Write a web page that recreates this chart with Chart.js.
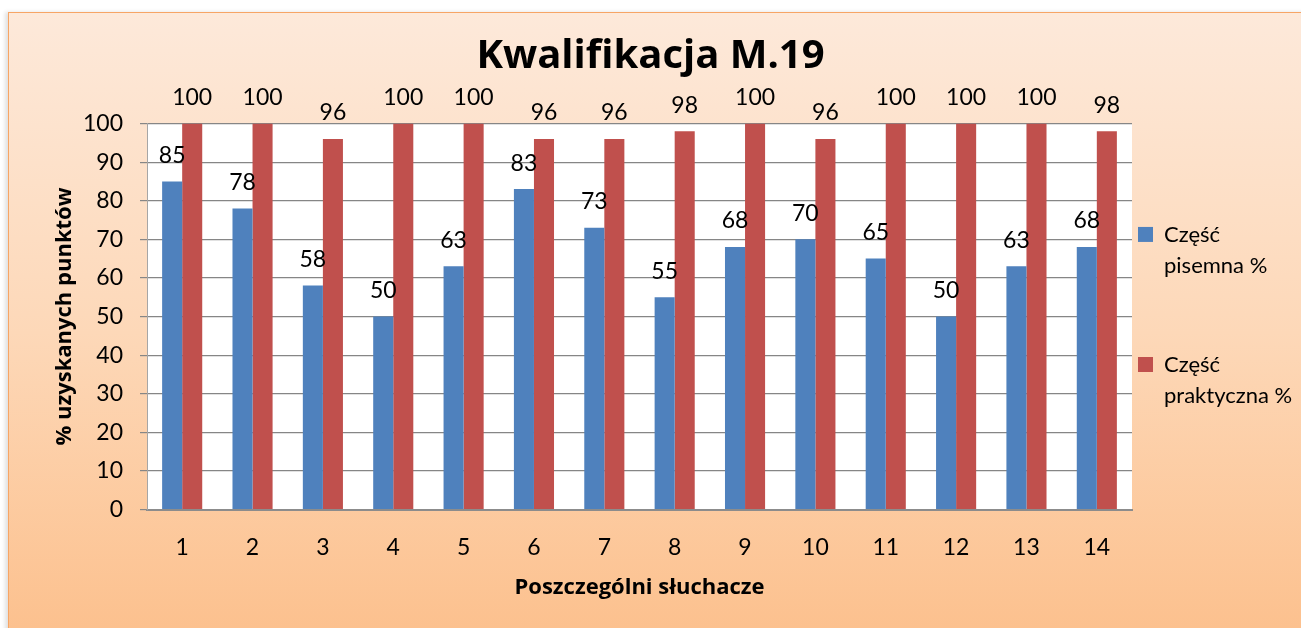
<!DOCTYPE html>
<html>
<head>
<meta charset="utf-8">
<script src="https://cdn.jsdelivr.net/npm/chart.js@4.4.1/dist/chart.umd.min.js"></script>
<style>
  html, body { margin: 0; padding: 0; width: 1301px; height: 628px; overflow: hidden; background: #ffffff; }
  #frame {
    position: absolute; left: 8px; top: 12px; width: 1320px; height: 640px;
    border: 1.5px solid #f7a565;
    background: linear-gradient(to bottom, #fde9da 0%, #fdd8b8 50%, #fcbf8b 100%);
    box-shadow: -3px 0 4px rgba(0,0,0,0.12);
  }
  #c { position: absolute; left: 0; top: 0; }
</style>
</head>
<body>
<div id="frame"></div>
<canvas id="c" width="1301" height="628"></canvas>
<script>
const categories = ['1','2','3','4','5','6','7','8','9','10','11','12','13','14'];
const pisemna = [85, 78, 58, 50, 63, 83, 73, 55, 68, 70, 65, 50, 63, 68];
const praktyczna = [100, 100, 96, 100, 100, 96, 96, 98, 100, 96, 100, 100, 100, 98];
const seriesNames = [['Część', 'pisemna %', '', ''], ['Część', 'praktyczna %']];
const yTicks = [0, 10, 20, 30, 40, 50, 60, 70, 80, 90, 100];

const FONT = 'Lato, "Open Sans", sans-serif';
const BOLD_FONT = '"Open Sans", Lato, sans-serif';

const plotBg = {
  id: 'plotBg',
  beforeDraw(chart) {
    const {ctx, chartArea: a} = chart;
    ctx.save();
    ctx.fillStyle = '#ffffff';
    ctx.fillRect(a.left, a.top, a.right - a.left, a.bottom - a.top);
    ctx.restore();
  }
};

const valueLabels = {
  id: 'valueLabels',
  afterDatasetsDraw(chart) {
    const ctx = chart.ctx;
    ctx.save();
    ctx.font = '23px ' + FONT;
    ctx.fillStyle = '#000000';
    ctx.textAlign = 'center';
    ctx.textBaseline = 'middle';
    chart.data.datasets.forEach((ds, di) => {
      const meta = chart.getDatasetMeta(di);
      meta.data.forEach((bar, i) => {
        ctx.fillText(String(ds.data[i]), bar.x, bar.y - 26);
      });
    });
    ctx.restore();
  }
};

new Chart(document.getElementById('c'), {
  type: 'bar',
  data: {
    labels: categories,
    datasets: [
      { label: 'Część pisemna %', data: pisemna, backgroundColor: '#4f81bd', borderWidth: 0,
        categoryPercentage: 0.57, barPercentage: 1.0 },
      { label: 'Część praktyczna %', data: praktyczna, backgroundColor: '#c0504d', borderWidth: 0,
        categoryPercentage: 0.57, barPercentage: 1.0 }
    ]
  },
  options: {
    responsive: false,
    animation: false,
    events: [],
    color: '#000000',
    layout: { padding: 0 },
    plugins: {
      title: {
        display: true,
        text: 'Kwalifikacja M.19',
        color: '#000000',
        font: { family: BOLD_FONT, size: 40, weight: 'bold', lineHeight: 1.2 },
        padding: { top: 33, bottom: 42.5 }
      },
      legend: {
        display: true,
        position: 'right',
        align: 'center',
        maxWidth: 169,
        title: { display: true, text: ' ', color: '#000000', font: { size: 10, lineHeight: 1 }, padding: 0.5 },
        labels: {
          boxWidth: 15,
          boxHeight: 15,
          padding: 6,
          color: '#000000',
          font: { family: FONT, size: 22, lineHeight: 1.41 },
          generateLabels(chart) {
            return chart.data.datasets.map((ds, i) => ({
              text: seriesNames[i],
              fillStyle: ds.backgroundColor,
              strokeStyle: ds.backgroundColor,
              fontColor: '#000000',
              lineWidth: 0,
              hidden: false,
              datasetIndex: i
            }));
          }
        }
      },
      tooltip: { enabled: false }
    },
    scales: {
      x: {
        grid: { display: false, drawTicks: false },
        border: { display: true, color: '#8c8c8c', width: 2 },
        ticks: { color: '#000000', font: { family: FONT, size: 23 }, padding: 24 },
        title: {
          display: true,
          text: 'Poszczególni słuchacze',
          color: '#000000',
          font: { family: BOLD_FONT, size: 22, weight: 'bold', lineHeight: 1.2 },
          padding: { top: 0, bottom: 27.4 }
        },
        afterFit(scale) { scale.height = 118.5; }
      },
      y: {
        min: 0,
        max: 100,
        afterBuildTicks(scale) { scale.ticks = yTicks.map(v => ({ value: v })); },
        grid: { color: '#868686', lineWidth: 1.2, tickLength: 7, drawTicks: true, tickColor: '#868686' },
        border: { display: true, color: '#a6a6a6', width: 1 },
        ticks: { color: '#000000', font: { family: FONT, size: 23 }, padding: 17 },
        title: {
          display: true,
          text: '% uzyskanych punktów',
          color: '#000000',
          font: { family: BOLD_FONT, size: 22, weight: 'bold', lineHeight: 1.2 },
          padding: { top: 51.5, bottom: 0 }
        },
        afterFit(scale) { scale.width = 147; }
      }
    }
  },
  plugins: [plotBg, valueLabels]
});
</script>
</body>
</html>
